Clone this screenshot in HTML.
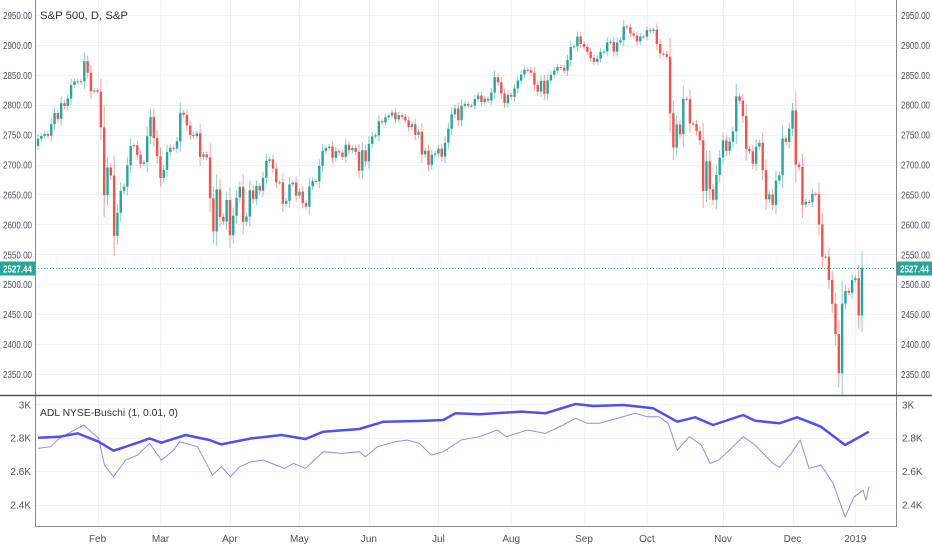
<!DOCTYPE html>
<html><head><meta charset="utf-8"><style>
html,body{margin:0;padding:0;background:#fff;}
svg{display:block;font-family:"Liberation Sans",sans-serif;}
</style></head><body>
<svg id="c" width="932" height="550"></svg>
<script>
const closes=[2743.15,2747.71,2751.29,2748.23,2767.56,2786.24,2776.42,2802.56,2798.03,2810.30,2832.97,2839.13,2837.54,2839.25,2872.87,2853.53,2822.43,2823.81,
2821.98,2762.13,2648.94,2695.14,2681.66,2581.00,2619.55,2656.00,2662.94,2698.63,2731.20,2732.22,2716.26,2701.33,2703.96,2747.30,2779.60,2744.28,2713.83,
2677.67,2691.25,2720.94,2728.12,2726.80,2738.97,2786.57,2783.02,2765.31,2749.48,2747.33,2752.01,2712.92,2716.94,2711.93,2643.69,2588.26,2658.55,2612.62,2605.00,2640.87,
2581.88,2614.45,2644.69,2662.84,2604.47,2613.16,2656.87,2642.19,2663.99,2656.30,2677.84,2706.39,2708.64,2693.13,2670.14,2670.29,2634.56,2639.40,2666.94,2669.91,2648.05,
2654.80,2635.67,2629.73,2663.42,2672.63,2671.92,2697.79,2723.07,2727.72,2730.13,2711.45,2722.46,2720.13,2712.97,2733.29,2724.01,2727.76,2721.33,2689.86,2724.01,2705.27,
2734.62,2746.87,2748.80,2772.35,2770.37,2779.03,2782.00,2786.85,2775.63,2782.49,2779.66,2773.87,2762.59,2767.32,2749.76,2754.88,2717.07,2723.06,2699.63,2716.31,2718.37,
2726.71,2713.22,2736.61,2759.82,2784.17,2793.84,2774.02,2798.29,2801.31,2798.43,2798.43,2809.55,2815.62,2804.49,2809.87,2806.98,2820.40,2846.07,2837.44,2818.82,2802.60,2816.29,
2813.36,2827.22,2840.35,2850.40,2858.45,2857.70,2853.58,2833.28,2821.93,2839.96,2818.37,2840.69,2850.13,2857.05,2862.96,2861.82,2856.98,2874.69,2896.74,2897.52,2914.04,2901.52,
2896.72,2888.60,2878.05,2871.68,2877.13,2887.89,2888.92,2904.18,2904.98,2888.80,2904.31,2907.95,2930.75,2929.67,2919.37,2915.56,2905.97,2914.00,2913.98,
2924.59,2923.43,2925.51,2901.61,2885.57,2884.43,2880.34,2785.68,2728.37,2767.13,2750.79,2809.92,2809.21,2768.78,2767.78,2755.88,2740.69,2656.10,2705.57,2658.69,2641.25,2682.63,2711.74,
2740.37,2723.06,2738.31,2755.45,2813.89,2806.83,2781.01,2726.22,2722.18,2701.58,2730.20,2736.27,2690.73,2641.89,2649.93,2632.56,2673.45,2682.17,2743.79,2737.80,2760.17,
2790.37,2700.06,2695.95,2633.08,2637.72,2636.78,2651.07,2650.54,2599.95,2545.94,2546.16,2506.96,2467.42,2416.62,2351.10,2467.70,2488.83,2485.74,2506.85,
2510.03,2447.89,2527.44];
const firstOpen=2731.33;
const priceTicks=[2350,2400,2450,2500,2550,2600,2650,2700,2750,2800,2850,2900,2950];
const adlTicks=[2400,2600,2800,3000];
const adlTickLabels=["2.4K","2.6K","2.8K","3K"];
const months=["Feb","Mar","Apr","May","Jun","Jul","Aug","Sep","Oct","Nov","Dec","2019"];
const monthBars=[18,37,58,79,100,121,143,165,184,207,228,247];
const adlThickBar=[0,6.5,12,18.3,22.8,30.1,33.7,37.3,44.6,51.8,55.4,64.5,73.6,80.8,86.2,97.1,104.4,115.2,122.5,126.1,133.4,146,153.3,162.4,167.8,176.8,185.9,193.2,198.6,204,213.1,216.7,224,229.4,236.6,243.9,251.1];
const adlThick=[2800,2806,2826,2776,2722,2770,2796,2770,2816,2786,2760,2796,2816,2792,2836,2852,2896,2900,2906,2946,2940,2956,2946,3002,2990,2996,2976,2896,2922,2876,2936,2902,2886,2922,2866,2756,2836];
const adlThinBar=[0,3.8,6.5,10.1,13.8,18.3,20.1,22.8,26.5,30.1,33.7,37.3,41,42.8,48.2,52.7,55.4,58.2,60.9,64.5,68.1,74.5,77.2,80.8,86.2,91.7,97.1,98.9,102.6,108,111.6,115.2,118.9,122.5,127.9,133.4,138.8,141.5,147.9,153.3,158.7,162.4,166,169.6,173.2,180.5,184.1,187.7,190.4,193.2,196.8,200.4,203.1,205.8,209.5,213.1,216.7,222.1,224,227.6,230.3,233,236.6,240.3,243.9,246.6,249.3,250.2,251.1];
const adlThin=[2736,2746,2796,2836,2876,2796,2636,2566,2666,2696,2766,2666,2726,2776,2746,2576,2626,2566,2626,2656,2666,2616,2646,2616,2716,2706,2716,2686,2746,2776,2786,2766,2696,2716,2786,2806,2846,2806,2846,2826,2876,2916,2886,2886,2906,2946,2926,2926,2886,2726,2806,2756,2646,2666,2736,2806,2756,2646,2622,2706,2786,2616,2636,2526,2326,2446,2486,2426,2506];

const svg=document.getElementById('c');const NS='http://www.w3.org/2000/svg';
function mk(t,a,p){const e=document.createElementNS(NS,t);for(const k in a)e.setAttribute(k,a[k]);(p||svg).appendChild(e);return e;}
const X0=38,X1=862,L=35,R=896;
const n=closes.length;
const step=(X1-X0)/(n-1);
const xB=i=>X0+i*step;
const yP=v=>15+(2950-v)*0.5983;
const yA=v=>404.3+(3000-v)*0.167;
const g=mk('g',{});
monthBars.forEach(b=>{const x=Math.round(xB(b))+0.5;mk('line',{x1:x,x2:x,y1:0,y2:526,stroke:'#eef1f8'},g);});
priceTicks.forEach(v=>{const y=Math.round(yP(v))+0.5;mk('line',{x1:L,x2:R,y1:y,y2:y,stroke:'#eef1f8'},g);});
adlTicks.forEach(v=>{const y=Math.round(yA(v))+0.5;mk('line',{x1:L,x2:R,y1:y,y2:y,stroke:'#eef1f8'},g);});
const cg=mk('g',{});
for(let i=0;i<n;i++){
  const c=closes[i],o=i?closes[i-1]:firstOpen;
  const up=c>=o,col=up?'#26a69a':'#ef5350';
  const w=Math.abs(c-o)*0.3+3.5;
  const hi=Math.max(o,c)+w,lo=Math.min(o,c)-w;
  const x=xB(i);
  const wk=mk('line',{x1:x,x2:x,y1:yP(hi),y2:yP(lo),stroke:col,'stroke-opacity':0.55},cg);
  
  
  const y1=yP(Math.max(o,c)),y2=yP(Math.min(o,c));
  const r=mk('rect',{x:x-1.2,y:y1,width:2.4,height:Math.max(1,y2-y1),fill:col},cg);
  
  
}
const ly=Math.round(yP(closes[n-1]))+0.5;
const pl=mk('line',{x1:L,x2:R,y1:ly,y2:ly,stroke:'#26a69a','stroke-dasharray':'1,2'});

function path(bars,vals,attrs,name){let d='';bars.forEach((b,i)=>{d+=(i?'L':'M')+xB(b).toFixed(1)+','+yA(vals[i]).toFixed(1);});
  const p=mk('path',Object.assign({d:d,fill:'none'},attrs));}
path(adlThinBar,adlThin,{stroke:'#8c8cf7','stroke-width':1},'adl-thin-line');
path(adlThickBar,adlThick,{stroke:'#5050ee','stroke-width':2.5,'stroke-linejoin':'round'},'adl-thick-line');
mk('line',{x1:L+0.5,x2:L+0.5,y1:0,y2:527,stroke:'#888'});
mk('line',{x1:R+0.5,x2:R+0.5,y1:0,y2:527,stroke:'#888'});
mk('line',{x1:0,x2:932,y1:395.5,y2:395.5,stroke:'#555','stroke-width':1.5});
mk('line',{x1:L,x2:R,y1:526.5,y2:526.5,stroke:'#888'});
priceTicks.forEach(v=>{const y=yP(v)+4;
  const a=mk('text',{x:3,y:y,'font-size':10,fill:'#4c525e',textLength:29,lengthAdjust:'spacingAndGlyphs'});a.textContent=v.toFixed(2);
  const b=mk('text',{x:901,y:y,'font-size':10,fill:'#4c525e',textLength:29,lengthAdjust:'spacingAndGlyphs'});b.textContent=v.toFixed(2);});
adlTicks.forEach((v,i)=>{const y=yA(v)+4;
  const a=mk('text',{x:31,y:y,'font-size':10,fill:'#4c525e','text-anchor':'end'});a.textContent=adlTickLabels[i];
  const b=mk('text',{x:902,y:y,'font-size':10,fill:'#4c525e'});b.textContent=adlTickLabels[i];});
months.forEach((m,i)=>{const t=mk('text',{x:xB(monthBars[i]),y:542,'font-size':10,fill:'#4c525e','text-anchor':'middle'});t.textContent=m;});
[[0,35],[897,35]].forEach(([x,w])=>{mk('rect',{x:x,y:ly-7,width:w,height:14,fill:'#26a69a'});
  const t=mk('text',{x:x+3,y:ly+4,'font-size':10,fill:'#fff','font-weight':'bold',textLength:29,lengthAdjust:'spacingAndGlyphs'});t.textContent=closes[n-1].toFixed(2);});
const t1=mk('text',{x:40,y:19,'font-size':11,fill:'#333',textLength:88,lengthAdjust:'spacingAndGlyphs'});t1.textContent='S&P 500, D, S&P';
const t2=mk('text',{x:40,y:416,'font-size':10,fill:'#333',textLength:138,lengthAdjust:'spacingAndGlyphs'});t2.textContent='ADL NYSE-Buschi (1, 0.01, 0)';
</script>
</body></html>
